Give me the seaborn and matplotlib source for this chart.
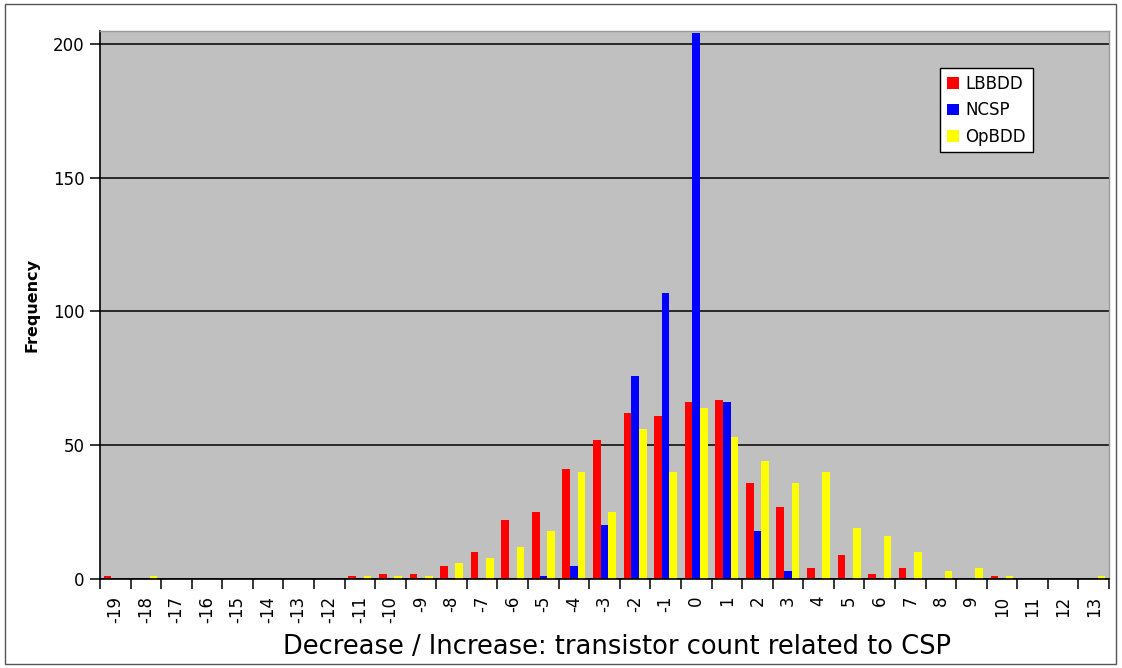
import matplotlib
matplotlib.use("Agg")
import matplotlib.pyplot as plt
from matplotlib.patches import Patch, Rectangle
import numpy as np
import pandas as pd
import seaborn as sns

# Shift in transistor count relative to CSP, one bin per integer step
shifts = list(range(-19, 14))
shift_labels = [str(s) for s in shifts]

series_names = ["LBBDD", "NCSP", "OpBDD"]
series_colors = ["#FF0000", "#0000FF", "#FFFF00"]

lbbdd = [1, 0, 0, 0, 0, 0, 0, 0, 1, 2, 2, 5, 10, 22, 25, 41, 52, 62, 61,
         66, 67, 36, 27, 4, 9, 2, 4, 0, 0, 1, 0, 0, 0]
ncsp = [0, 0, 0, 0, 0, 0, 0, 0, 0, 0, 0, 0, 0, 0, 1, 5, 20, 76, 107,
        204, 66, 18, 3, 0, 0, 0, 0, 0, 0, 0, 0, 0, 0]
opbdd = [0, 1, 0, 0, 0, 0, 0, 0, 1, 1, 1, 6, 8, 12, 18, 40, 25, 56, 40,
         64, 53, 44, 36, 40, 19, 16, 10, 3, 4, 1, 0, 0, 1]

df = pd.DataFrame({
    "shift": shift_labels * 3,
    "freq": lbbdd + ncsp + opbdd,
    "method": [n for n in series_names for _ in shifts],
})

sns.set_style("white")
plt.rcParams["font.family"] = ["DejaVu Sans"]
plt.rcParams["text.color"] = "black"
plt.rcParams["axes.labelcolor"] = "black"
plt.rcParams["xtick.color"] = "black"
plt.rcParams["ytick.color"] = "black"

W, H = 1122, 668
fig = plt.figure(figsize=(W / 100, H / 100), dpi=100)
fig.patch.set_facecolor("white")

# plot area in pixel coordinates
left, right, top, bottom = 100, 1109, 30.5, 579
ax = fig.add_axes([left / W, 1 - bottom / H, (right - left) / W, (bottom - top) / H])

sns.barplot(data=df, x="shift", y="freq", hue="method", order=shift_labels,
            hue_order=series_names, palette=series_colors, width=0.75,
            saturation=1, errorbar=None, legend=False, linewidth=0, ax=ax)

ax.set_facecolor("#C0C0C0")
ax.set_ylim(0, 205)
ax.set_xlim(-0.5, len(shifts) - 0.5)
ax.set_yticks([0, 50, 100, 150, 200])
ax.yaxis.grid(True, color="black", linewidth=1.1)
ax.xaxis.grid(False)
ax.set_axisbelow(True)

for side in ("left", "bottom"):
    ax.spines[side].set_color("black")
    ax.spines[side].set_linewidth(1.2)
for side in ("top", "right"):
    ax.spines[side].set_color("#9a9a9a")
    ax.spines[side].set_linewidth(1.0)

# category labels centred, tick marks on the bin boundaries
ax.set_xticks(range(len(shifts)))
ax.set_xticklabels(shift_labels, rotation=90, fontsize=12, color="black")
ax.set_xticks(np.arange(-0.5, len(shifts)), minor=True)
ax.tick_params(axis="x", which="major", length=0, pad=12, labelcolor="black")
ax.tick_params(axis="x", which="minor", length=7, width=1.1, color="black", direction="out")
ax.tick_params(axis="y", length=7, width=1.1, color="black", direction="out",
               labelsize=12, pad=4, labelcolor="black")
ax.yaxis.set_ticks_position("left")
ax.xaxis.set_ticks_position("bottom")

ax.set_xlabel("")
ax.set_ylabel("Frequency", fontsize=11.5, fontweight="bold", labelpad=10, color="black")
fig.text(617 / W, 1 - 647 / H,
         "Decrease / Increase: transistor count related to CSP",
         ha="center", va="center", fontsize=18.5, color="black")

handles = [Patch(facecolor=c, edgecolor="none") for c in series_colors]
leg = ax.legend(handles, series_names, loc="upper left", bbox_to_anchor=(0.833, 0.931),
                frameon=True, fancybox=False, edgecolor="black", facecolor="white",
                framealpha=1, handlelength=0.7, handleheight=0.7, handletextpad=0.4,
                labelspacing=0.5, borderpad=0.4, fontsize=12, borderaxespad=0)
leg.get_frame().set_linewidth(1.0)
for t in leg.get_texts():
    t.set_color("black")

# outer chart border
fig.patches.append(Rectangle((5 / W, 1 - 664 / H), 1111 / W, 660 / H,
                             transform=fig.transFigure, fill=False,
                             edgecolor="#555555", linewidth=1.0))

fig.savefig("out.png", dpi=100, facecolor="white")
